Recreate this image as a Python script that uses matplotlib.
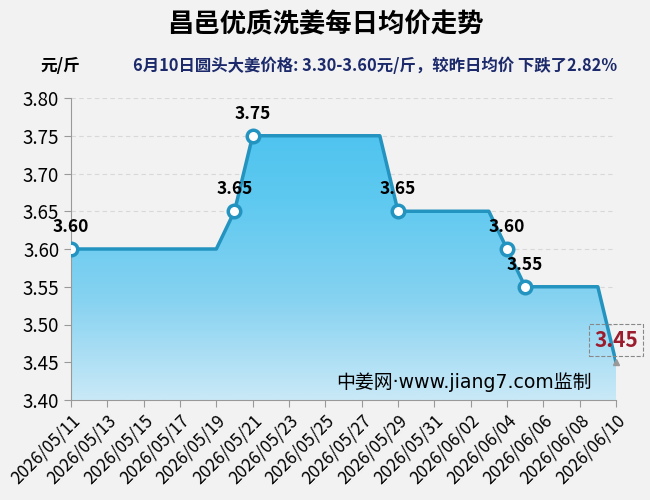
import numpy as np
import matplotlib.pyplot as plt
from matplotlib.colors import LinearSegmentedColormap
from matplotlib.patches import Polygon

plt.rcParams['font.family'] = ['Noto Sans CJK SC', 'DejaVu Sans']

dates = ['2026/05/11', '2026/05/12', '2026/05/13', '2026/05/14', '2026/05/15',
         '2026/05/16', '2026/05/17', '2026/05/18', '2026/05/19', '2026/05/20',
         '2026/05/21', '2026/05/22', '2026/05/23', '2026/05/24', '2026/05/25',
         '2026/05/26', '2026/05/27', '2026/05/28', '2026/05/29', '2026/05/30',
         '2026/05/31', '2026/06/01', '2026/06/02', '2026/06/03', '2026/06/04',
         '2026/06/05', '2026/06/06', '2026/06/07', '2026/06/08', '2026/06/09',
         '2026/06/10']
prices = [3.60, 3.60, 3.60, 3.60, 3.60, 3.60, 3.60, 3.60, 3.60, 3.65,
          3.75, 3.75, 3.75, 3.75, 3.75, 3.75, 3.75, 3.75, 3.65, 3.65,
          3.65, 3.65, 3.65, 3.65, 3.60, 3.55, 3.55, 3.55, 3.55, 3.55,
          3.45]
yticks = [3.40, 3.45, 3.50, 3.55, 3.60, 3.65, 3.70, 3.75, 3.80]

title = '昌邑优质洗姜每日均价走势'
subtitle = '6月10日圆头大姜价格: 3.30-3.60元/斤，较昨日均价 下跌了2.82%'
unit = '元/斤'
mark = '中姜网·www.jiang7.com监制'

line_c = '#2393bf'
bg = '#f2f2f2'

fig = plt.figure(figsize=(6.5, 5), dpi=100, facecolor=bg)
ax = fig.add_axes([0.1092, 0.2, 0.8385, 0.604], facecolor=bg)

x = np.arange(len(prices))
y = np.array(prices)
ymin, ymax = 3.40, 3.80

# gradient fill under the line
cmap = LinearSegmentedColormap.from_list('g', ['#c9e9f7', '#86d2f1', '#5ec9f0', '#47c1ef'])
grad = np.linspace(0, 1, 256).reshape(-1, 1)
im = ax.imshow(grad, cmap=cmap, aspect='auto', origin='lower',
               extent=[x[0], x[-1], ymin, ymax], zorder=1)
poly = Polygon(np.column_stack([np.r_[x, x[-1], x[0]], np.r_[y, ymin, ymin]]),
               closed=True, facecolor='none', edgecolor='none')
ax.add_patch(poly)
im.set_clip_path(poly)

ax.plot(x, y, color=line_c, lw=2.5, zorder=3)

# markers where the price changes
chg = [0] + [i for i in range(1, len(y) - 1) if y[i] != y[i - 1]]
ax.plot(x[chg], y[chg], 'o', ms=9, mfc='white', mec=line_c, mew=2.5, zorder=4)
for i in chg:
    ax.annotate(f'{y[i]:.2f}', (x[i], y[i]), xytext=(0, 16), textcoords='offset points',
                ha='center', va='center', fontsize=12.5, fontweight='bold', color='black', zorder=5)

# last value highlighted
ax.annotate(f'{y[-1]:.2f}', (x[-1], y[-1]), xytext=(0, 16), textcoords='offset points',
            ha='center', va='center', fontsize=15, fontweight='bold', color='#9b1c2c',
            bbox=dict(boxstyle='square,pad=0.25', fc='none', ec='#888888', ls='--', lw=0.8),
            annotation_clip=False, zorder=5)
ax.plot(x[-1], y[-1], marker='^', ms=5, color='#999999', zorder=4, clip_on=False)

ax.text(0.956, 0.06, mark, transform=ax.transAxes, ha='right', va='center',
        fontsize=13.6, color='black', zorder=6, family=['DejaVu Sans', 'Noto Sans CJK SC'])

ax.set_xlim(x[0], x[-1])
ax.set_ylim(ymin, ymax)
ax.set_yticks(yticks)
ax.set_yticklabels([f'{v:.2f}' for v in yticks], fontsize=13.5)
ax.set_xticks(x[::2])
ax.set_xticklabels(dates[::2], rotation=45, ha='right', rotation_mode='anchor', fontsize=12.3)
ax.yaxis.grid(True, ls=(0, (4, 3)), color='#d8d8d8', lw=0.8)
ax.set_axisbelow(True)
for s in ['top', 'right']:
    ax.spines[s].set_visible(False)
for s in ['left', 'bottom']:
    ax.spines[s].set_color('#999999')
ax.tick_params(colors='#999999', labelcolor='black', length=5, direction='out')

fig.text(0.5, 0.95, title, ha='center', va='center', fontsize=19, fontweight='bold')
fig.text(0.062, 0.868, unit, ha='left', va='center', fontsize=12, fontweight='bold')
fig.text(0.205, 0.868, subtitle, ha='left', va='center', fontsize=11.8,
         fontweight='bold', color='#1c2a6b')

fig.savefig('out.png', dpi=100, facecolor=bg)
